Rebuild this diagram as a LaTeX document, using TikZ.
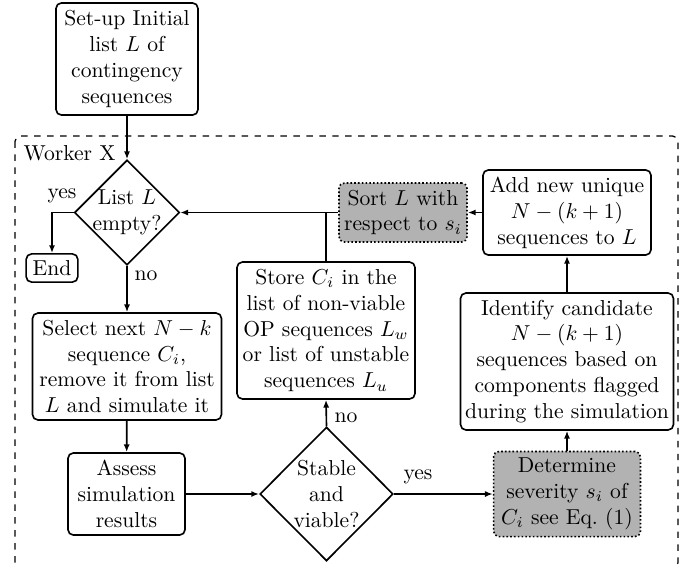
\documentclass[tikz,border=0pt]{standalone}
\usetikzlibrary{shapes.geometric,arrows.meta}
\begin{document}
\begin{tikzpicture}[x=0.46296pt,y=-0.46296pt,
  box/.style={draw,rounded corners=2.5pt,line width=0.75pt,align=center,inner xsep=1.5pt,inner ysep=3pt},
  greybox/.style={box,fill=black!30,densely dotted},
  dec/.style={draw,shape=diamond,line width=0.75pt,align=center,inner sep=0pt},
  arr/.style={line width=0.75pt,-{Latex[length=3.6pt,width=2.8pt]}},
  ln/.style={line width=0.75pt},
  lbl/.style={inner sep=1pt}]
\useasboundingbox (0,0) rectangle (697,565);
\draw[dashed,line width=0.6pt,rounded corners=2.5pt] (15,136) rectangle (678,568);
\node[lbl,anchor=west] (worker) at (21,153) {Worker X};

\node[box,minimum width=65.7pt,minimum height=51.9pt] (top) at (127,59) {Set-up Initial\\list $L$ of\\contingency\\sequences};
\node[dec,inner sep=-1.5pt,minimum width=48.6pt,minimum height=48.6pt] (d1) at (127,212.5) {List $L$\\empty?};
\node[box,inner xsep=3pt] (end) at (52,268) {End};
\node[box,minimum width=87.5pt,minimum height=49.5pt] (select) at (127,366.5) {Select next $N-k$\\sequence $C_i$,\\remove it from list\\$L$ and simulate it};
\node[box,minimum width=54.2pt,minimum height=38pt] (assess) at (126.5,494) {Assess\\simulation\\results};
\node[dec,minimum width=61.6pt,minimum height=62pt] (d2) at (326.5,494) {Stable\\and\\viable?};
\node[box,minimum width=82.4pt,minimum height=63.4pt] (store) at (326,330.5) {Store $C_i$ in the\\list of non-viable\\OP sequences $L_w$\\or list of unstable\\sequences $L_u$};
\node[greybox,minimum width=59.3pt,minimum height=27.3pt] (sort) at (403,212.5) {Sort $L$ with\\respect to $s_i$};
\node[box,minimum width=77.8pt,minimum height=39.4pt] (add) at (567,212.5) {Add new unique\\$N-(k+1)$\\sequences to $L$};
\node[box,minimum width=98.6pt,minimum height=63.4pt] (ident) at (567,361.5) {Identify candidate\\$N-(k+1)$\\sequences based on\\components flagged\\during the simulation};
\node[greybox,minimum width=68pt,minimum height=39.4pt] (det) at (567,494) {Determine\\severity $s_i$ of\\$C_i$ see Eq.~(1)};

\draw[arr] (top) -- (d1);
\draw[arr] (d1.west) -| (end.north);
\node[lbl] (yes1) at (62,196) {yes};
\draw[arr] (d1) -- (select);
\node[lbl] (no1) at (146,276) {no};
\draw[arr] (select) -- (assess);
\draw[arr] (assess) -- (d2.west);
\draw[arr] (d2.north) -- (store.south);
\node[lbl] (no2) at (346,418) {no};
\draw[arr] (d2.east) -- (det.west);
\node[lbl] (yes2) at (418,477) {yes};
\draw[arr] (det) -- (ident);
\draw[arr] (ident) -- (add);
\draw[arr] (add) -- (sort);
\draw[arr] (sort.west) -- (d1.east);
\draw[ln] (store.north) -- (store.north |- d1.east);
\end{tikzpicture}
\end{document}
